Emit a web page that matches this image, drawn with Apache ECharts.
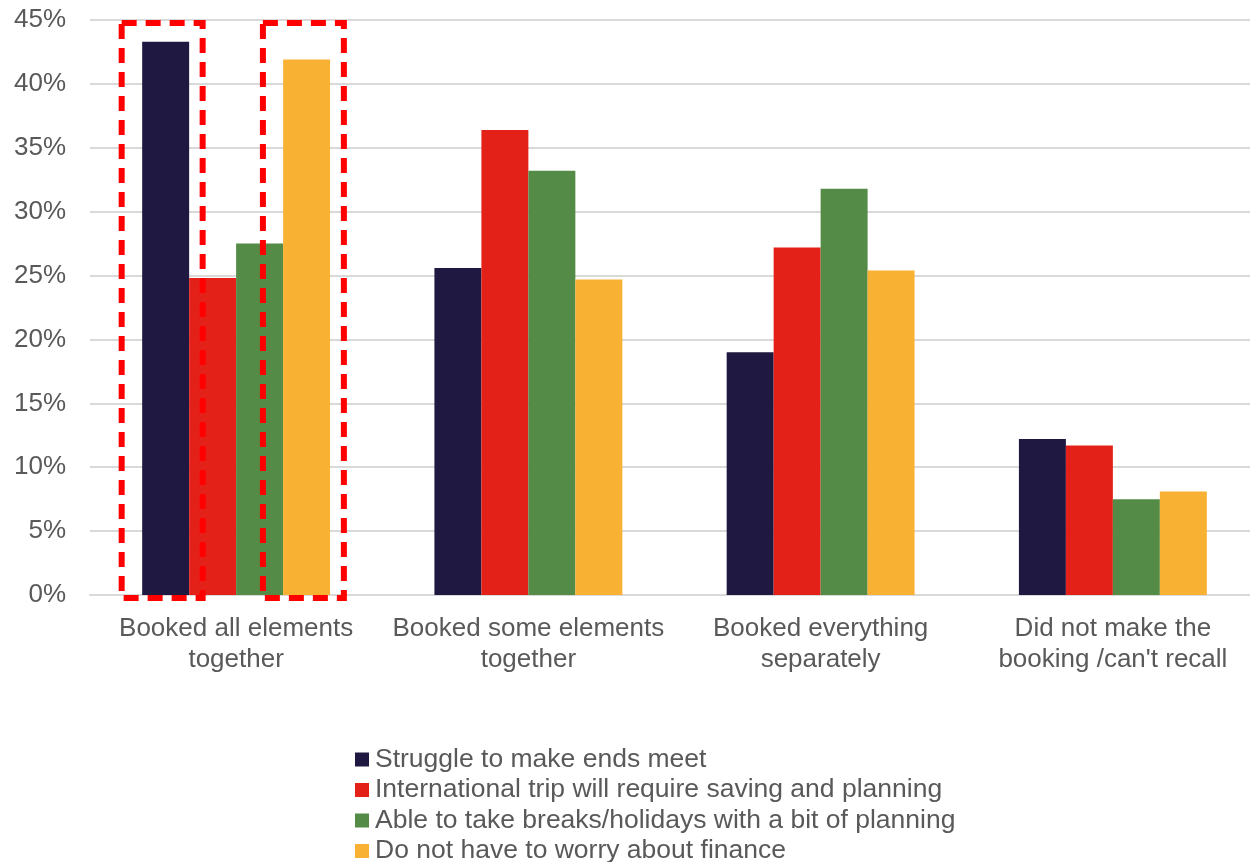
<!DOCTYPE html>
<html>
<head>
<meta charset="utf-8">
<script src="https://cdn.jsdelivr.net/npm/echarts@6/dist/echarts.min.js"></script>
<style>html,body{margin:0;padding:0;background:#fff}#c{width:1250px;height:862px}</style>
</head>
<body>
<div id="c"></div>
<script>
const categories = ['Booked all elements\ntogether', 'Booked some elements\ntogether', 'Booked everything\nseparately', "Did not make the\nbooking /can't recall"];
const seriesNames = ['Struggle to make ends meet', 'International trip will require saving and planning', 'Able to take breaks/holidays with a bit of planning', 'Do not have to worry about finance'];
const struggle = [43.3, 25.6, 19.0, 12.2];
const international = [24.8, 36.4, 27.2, 11.7];
const ableBreaks = [27.5, 33.2, 31.8, 7.5];
const noWorry = [41.9, 24.7, 25.4, 8.1];
const colors = ['#1F1840', '#E32119', '#548B47', '#F8B133'];
const yTicks = {min: 0, max: 45, interval: 5};

const chart = echarts.init(document.getElementById('c'));
const font = 'Liberation Sans, Arial, sans-serif';
const values = [struggle, international, ableBreaks, noWorry];
const GAP = 0.357;
chart.setOption({
  animation: false,
  textStyle: {fontFamily: font},
  grid: {left: 90, width: 1169, top: 20, bottom: 267, containLabel: false, outerBoundsMode: 'none'},
  legend: {
    orient: 'vertical', left: 350, top: 741, height: 200,
    itemWidth: 14, itemHeight: 14, itemGap: 3.5,
    icon: 'rect',
    textStyle: {fontSize: 26.5, color: '#595959', fontFamily: font, padding: [0,0,0,1]},
    data: seriesNames
  },
  xAxis: {
    type: 'category', data: categories,
    axisLine: {show: true, lineStyle: {color: '#D9D9D9', width: 2}},
    axisTick: {show: false},
    axisLabel: {fontSize: 26, color: '#595959', lineHeight: 31, margin: 18, interval: 0, fontFamily: font}
  },
  yAxis: {
    type: 'value', min: yTicks.min, max: yTicks.max, interval: yTicks.interval,
    axisLine: {show: false}, axisTick: {show: false},
    splitLine: {lineStyle: {color: '#D9D9D9', width: 2}},
    axisLabel: {formatter: '{value}%', fontSize: 26, color: '#595959', margin: 24, fontFamily: font}
  },
  series: seriesNames.map((n, i) => ({
    name: n, type: 'bar', data: values[i],
    itemStyle: {color: colors[i]},
    barGap: '0%', barCategoryGap: (GAP*100) + '%'
  }))
});

function drawBoxes() {
  const c0 = chart.convertToPixel({xAxisIndex: 0}, 0);
  const c1 = chart.convertToPixel({xAxisIndex: 0}, 1);
  const band = c1 - c0;
  const barW = band * (1 - GAP) / 4;
  const yTop = chart.convertToPixel({yAxisIndex: 0}, yTicks.max) + 3;
  const yBot = chart.convertToPixel({yAxisIndex: 0}, 0) + 3;
  const boxes = [
    {cx: c0 - 1.5 * barW - 3.5, w: barW + 34},
    {cx: c0 + 1.5 * barW - 3.2, w: barW + 34}
  ];
  chart.setOption({
    graphic: boxes.map(b => ({
      type: 'rect', z: 100,
      shape: {x: b.cx - b.w / 2, y: yTop, width: b.w, height: yBot - yTop},
      style: {fill: 'none', stroke: '#FF0000', lineWidth: 6, lineDash: [15, 9]}
    }))
  });
}
drawBoxes();
</script>
</body>
</html>
